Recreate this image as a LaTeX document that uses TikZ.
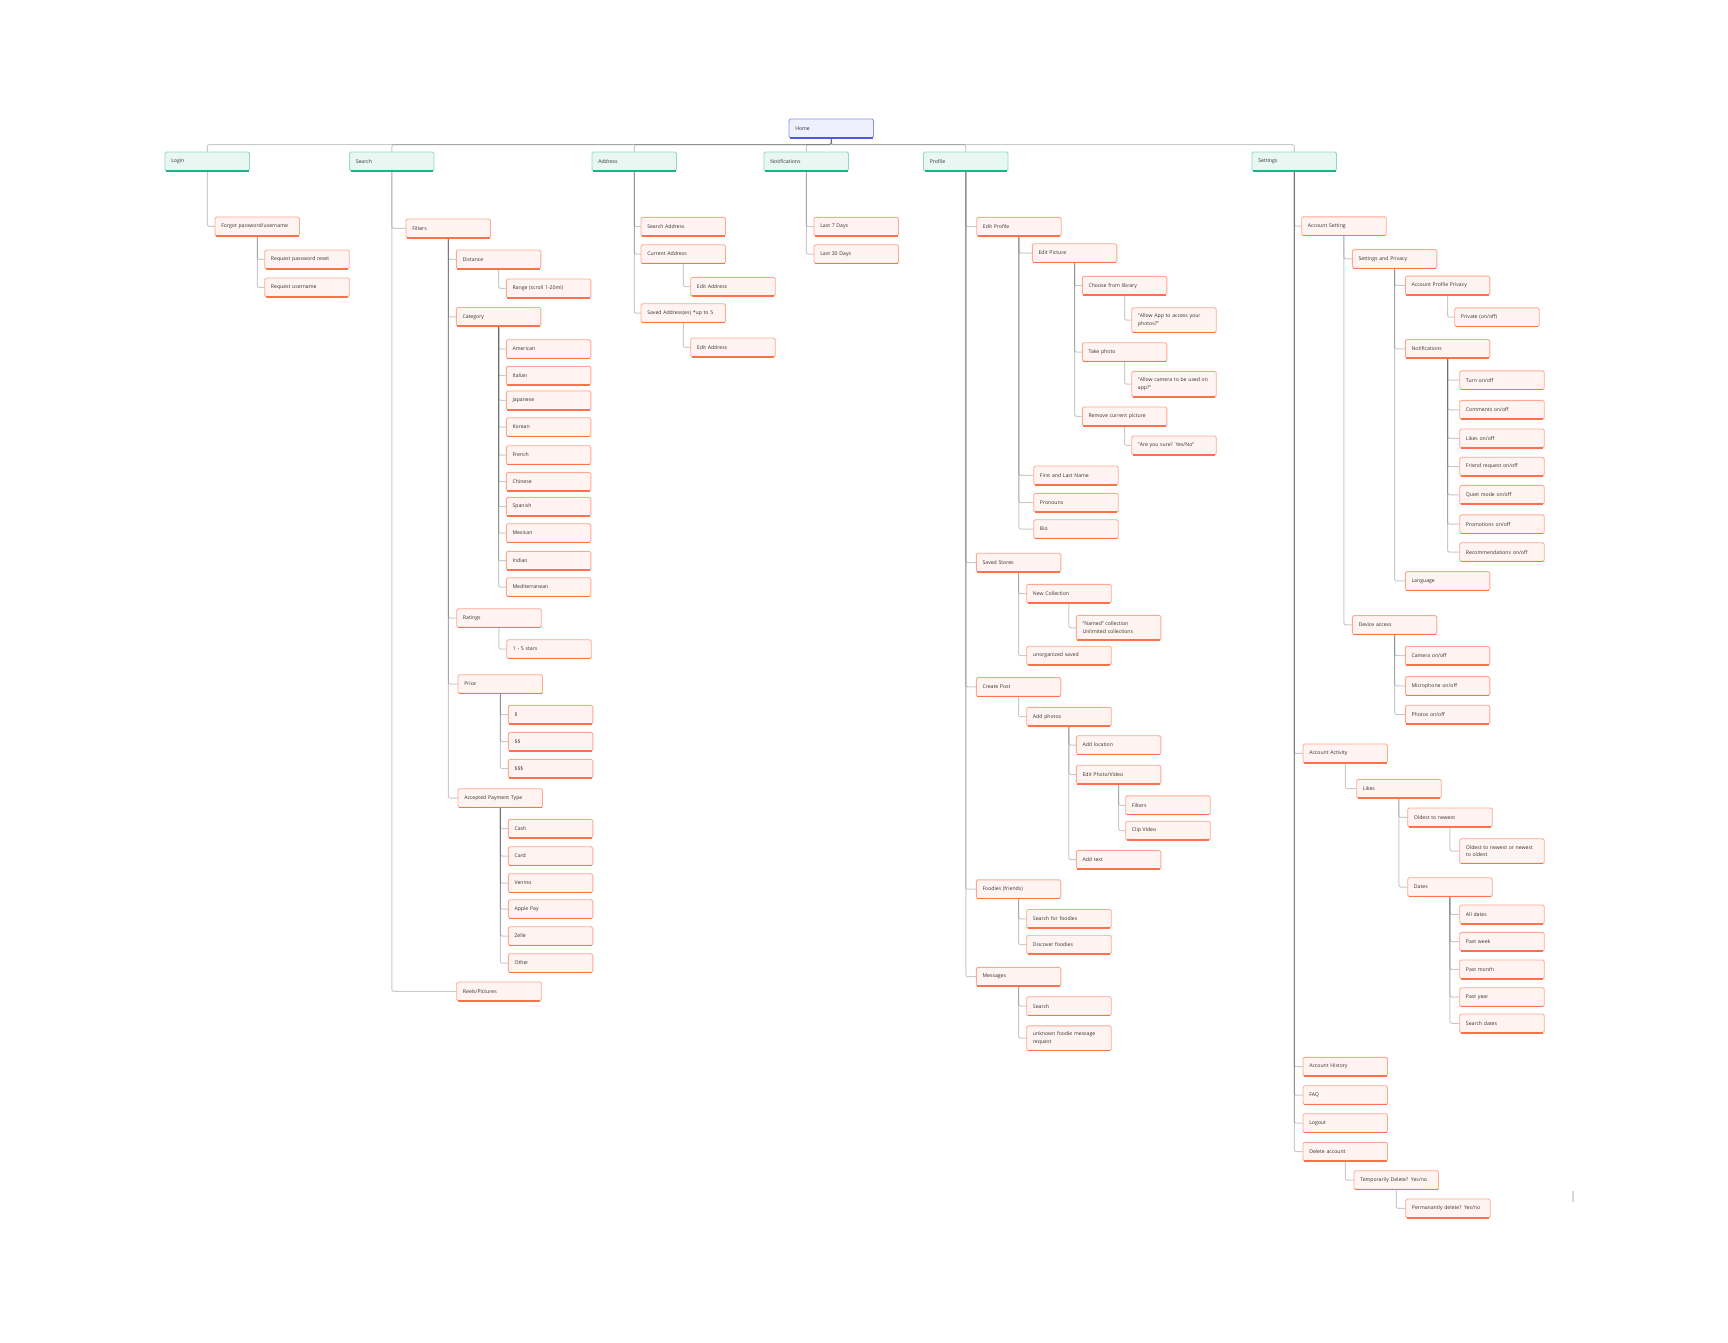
\documentclass[tikz,border=0pt]{standalone}
\usepackage{fontspec}
\setmainfont{Open Sans}
\pgfdeclarelayer{background}
\pgfsetlayers{background,main}
\definecolor{boxfill}{HTML}{FFF4F1}
\definecolor{boxline}{HTML}{FFA890}
\definecolor{boxbot}{HTML}{FF7148}
\definecolor{topfill}{HTML}{E9F7F3}
\definecolor{topline}{HTML}{8FD9C6}
\definecolor{topbot}{HTML}{1DB08A}
\definecolor{homefill}{HTML}{EEF1FC}
\definecolor{homeline}{HTML}{8B90F2}
\definecolor{homebot}{HTML}{5158E6}
\definecolor{textc}{HTML}{333333}
\definecolor{strayc}{HTML}{D9D9E6}
\tikzset{
  box/.style={draw=boxline, fill=boxfill, line width=0.9pt, rounded corners=1.5pt,
    anchor=north west, minimum width=84.5pt, minimum height=18.7pt,
    text width=72pt, inner xsep=6.25pt, inner ysep=2pt, align=left, outer sep=0pt,
    font=\fontsize{5.15}{7.6}\selectfont, text=textc},
  topbox/.style={box, draw=topline, fill=topfill},
  homebox/.style={box, draw=homeline, fill=homefill},
  bl/.style={draw=boxbot, line width=1.6pt},
  tbl/.style={draw=topbot, line width=1.6pt},
  hbl/.style={draw=homebot, line width=1.6pt},
  conn/.style={draw=black!60, opacity=0.35, line width=1pt, rounded corners=2pt},
}
\newcommand\mk[6]{%
  \node[#1] (#3) at (#4,#5) {#6};
  \draw[#2] ([xshift=1pt]#3.south west) -- ([xshift=-1pt]#3.south east);}
\newcommand\ed[2]{\foreach \c in {#2} {\draw[conn] (#1.south) |- (\c.west);}}
\begin{document}
\begin{tikzpicture}[x=1pt,y=-1pt]
\useasboundingbox (0,0) rectangle (1728,1342);
% top level
\mk{homebox}{hbl}{home}{789}{119}{Home}
\mk{topbox}{tbl}{login}{165}{152}{Login}
\mk{topbox}{tbl}{search}{349.5}{152}{Search}
\mk{topbox}{tbl}{address}{592}{152}{Address}
\mk{topbox}{tbl}{notif}{764}{152}{Notifications}
\mk{topbox}{tbl}{profile}{923.5}{152}{Profile}
\mk{topbox}{tbl}{settings}{1252}{152}{Settings}
% login
\mk{box}{bl}{forgot}{215}{217}{Forgot password/username}
\mk{box}{bl}{reqpw}{264.7}{250}{Request password reset}
\mk{box}{bl}{requn}{264.7}{278}{Request username}
% search
\mk{box}{bl}{filters}{406}{219}{Filters}
\mk{box}{bl}{distance}{456.3}{250}{Distance}
\mk{box}{bl}{range}{506.3}{279}{Range (scroll 1-20mi)}
\mk{box}{bl}{category}{456.3}{307.5}{Category}
\mk{box}{bl}{american}{506.3}{339.7}{American}
\mk{box}{bl}{italian}{506.3}{366.3}{Italian}
\mk{box}{bl}{japanese}{506.3}{391}{Japanese}
\mk{box}{bl}{korean}{506.3}{417.7}{Korean}
\mk{box}{bl}{french}{506.3}{445.7}{French}
\mk{box}{bl}{chinese}{506.3}{472.3}{Chinese}
\mk{box}{bl}{spanish}{506.3}{497.3}{Spanish}
\mk{box}{bl}{mexican}{506.3}{523.7}{Mexican}
\mk{box}{bl}{indian}{506.3}{551.3}{Indian}
\mk{box}{bl}{medit}{506.3}{577.7}{Mediterranean}
\mk{box}{bl}{ratings}{456.7}{608.7}{Ratings}
\mk{box}{bl}{stars}{506.7}{639.7}{1 - 5 stars}
\mk{box}{bl}{price}{458}{674.7}{Price}
\mk{box}{bl}{done}{508.3}{705.3}{\$}
\mk{box}{bl}{dtwo}{508.3}{732.3}{\$\$}
\mk{box}{bl}{dthree}{508.3}{759.3}{\$\$\$}
\mk{box}{bl}{payment}{458}{788.7}{Accepted Payment Type}
\mk{box}{bl}{cash}{508.3}{819.3}{Cash}
\mk{box}{bl}{card}{508.3}{846.7}{Card}
\mk{box}{bl}{venmo}{508.3}{873.7}{Venmo}
\mk{box}{bl}{applepay}{508.3}{899.7}{Apple Pay}
\mk{box}{bl}{zelle}{508.3}{926.7}{Zelle}
\mk{box}{bl}{other}{508.3}{953.7}{Other}
\mk{box}{bl}{reels}{456.7}{982}{Reels/Pictures}
% address
\mk{box}{bl}{saddr}{641}{217.3}{Search Address}
\mk{box}{bl}{caddr}{641}{244.7}{Current Address}
\mk{box}{bl}{eaddrone}{690.7}{277.3}{Edit Address}
\mk{box}{bl}{svaddr}{641}{303.7}{Saved Address(es) *up to 5}
\mk{box}{bl}{eaddrtwo}{690.7}{338}{Edit Address}
% notifications
\mk{box}{bl}{lseven}{814}{217.3}{Last 7 Days}
\mk{box}{bl}{lthirty}{814}{244.7}{Last 30 Days}
% profile
\mk{box}{bl}{editprof}{976.7}{217.3}{Edit Profile}
\mk{box}{bl}{editpic}{1032.3}{243.7}{Edit Picture}
\mk{box}{bl}{library}{1082.3}{276.3}{Choose from library}
\mk{box,minimum height=24.7pt}{bl}{allowapp}{1131.7}{307.7}{"Allow App to access your\\photos?"}
\mk{box}{bl}{takephoto}{1082.3}{342.7}{Take photo}
\mk{box,minimum height=25.5pt}{bl}{allowcam}{1131.7}{371.3}{"Allow camera to be used on\\app?"}
\mk{box}{bl}{remove}{1082.3}{407}{Remove current picture}
\mk{box}{bl}{sure}{1131.7}{436}{"Are you sure? Yes/No"}
\mk{box}{bl}{fname}{1033.7}{466}{First and Last Name}
\mk{box}{bl}{pronouns}{1033.7}{493.3}{Pronouns}
\mk{box}{bl}{bio}{1033.7}{519.7}{Bio}
\mk{box}{bl}{saved}{976.3}{553.2}{Saved Stores}
\mk{box}{bl}{newcoll}{1026.7}{584.3}{New Collection}
\mk{box,minimum height=24.7pt}{bl}{named}{1076.3}{615.4}{"Named" collection\\*Unlimited collections}
\mk{box}{bl}{unorg}{1026.7}{646.2}{unorganized saved}
\mk{box}{bl}{createpost}{976.3}{677.6}{Create Post}
\mk{box}{bl}{addphotos}{1026.7}{707.3}{Add photos}
\mk{box}{bl}{addloc}{1076.3}{735.7}{Add location}
\mk{box}{bl}{editpv}{1076.3}{765.2}{Edit Photo/Video}
\mk{box}{bl}{pfilters}{1125.7}{795.9}{Filters}
\mk{box}{bl}{clip}{1125.7}{821.2}{Clip Video}
\mk{box}{bl}{addtext}{1076.3}{850.3}{Add text}
\mk{box}{bl}{foodies}{976.3}{879.8}{Foodies (friends)}
\mk{box}{bl}{sfoodies}{1026.7}{909.5}{Search for foodies}
\mk{box}{bl}{dfoodies}{1026.7}{935.2}{Discover foodies}
\mk{box}{bl}{messages}{976.3}{967.3}{Messages}
\mk{box}{bl}{msearch}{1026.7}{996.7}{Search}
\mk{box,minimum height=24.7pt}{bl}{unknown}{1026.7}{1025.8}{unknown foodie message\\request}
% settings
\mk{box}{bl}{accset}{1301.7}{216.8}{Account Setting}
\mk{box}{bl}{setpriv}{1352.3}{249.6}{Settings and Privacy}
\mk{box}{bl}{app}{1405.3}{276.1}{Account Profile Privacy}
\mk{box}{bl}{private}{1454.7}{307.8}{Private (on/off)}
\mk{box}{bl}{snotif}{1405.3}{339.5}{Notifications}
\mk{box}{bl}{turn}{1459.7}{370.8}{Turn on/off}
\mk{box}{bl}{comments}{1459.7}{400.4}{Comments on/off}
\mk{box}{bl}{likesoo}{1459.7}{429}{Likes on/off}
\mk{box}{bl}{friendreq}{1459.7}{457.2}{Friend request on/off}
\mk{box}{bl}{quiet}{1459.7}{485.4}{Quiet mode on/off}
\mk{box}{bl}{promo}{1459.7}{514.8}{Promotions on/off}
\mk{box}{bl}{recomm}{1459.7}{542.7}{Recommendations on/off}
\mk{box}{bl}{language}{1405.3}{571.6}{Language}
\mk{box}{bl}{device}{1352.3}{615.6}{Device access}
\mk{box}{bl}{camera}{1405.3}{646.3}{Camera on/off}
\mk{box}{bl}{micro}{1405.3}{676.6}{Microphone on/off}
\mk{box}{bl}{photos}{1405.3}{705.2}{Photos on/off}
\mk{box}{bl}{activity}{1303}{744}{Account Activity}
\mk{box}{bl}{likes}{1356.7}{779.3}{Likes}
\mk{box}{bl}{oldest}{1407.7}{808}{Oldest to newest}
\mk{box,minimum height=24.7pt}{bl}{oldnew}{1459.7}{838.7}{Oldest to newest or newest\\to oldest}
\mk{box}{bl}{dates}{1407.7}{877.7}{Dates}
\mk{box}{bl}{alld}{1459.7}{905}{All dates}
\mk{box}{bl}{pweek}{1459.7}{932.3}{Past week}
\mk{box}{bl}{pmonth}{1459.7}{960}{Past month}
\mk{box}{bl}{pyear}{1459.7}{987.7}{Past year}
\mk{box}{bl}{sdates}{1459.7}{1014}{Search dates}
\mk{box}{bl}{history}{1303}{1057.3}{Account History}
\mk{box}{bl}{faq}{1303}{1085.7}{FAQ}
\mk{box}{bl}{logout}{1303}{1113.7}{Logout}
\mk{box}{bl}{delete}{1303}{1142.3}{Delete account}
\mk{box}{bl}{tempdel}{1354}{1170.7}{Temporarily Delete? Yes/no}
\mk{box}{bl}{permdel}{1405.7}{1199}{Permanantly delete? Yes/no}
% stray mark
\fill[strayc] (1571.7,1190.7) rectangle (1573.7,1202.3);
% connectors
\begin{pgfonlayer}{background}
\foreach \c in {login,search,address,notif,profile,settings}
  {\draw[conn] (home.south) -- ++(0,7) -| (\c.north);}
\ed{login}{forgot}
\ed{forgot}{reqpw,requn}
\ed{search}{filters,reels}
\ed{filters}{distance,category,ratings,price,payment}
\ed{distance}{range}
\ed{category}{american,italian,japanese,korean,french,chinese,spanish,mexican,indian,medit}
\ed{ratings}{stars}
\ed{price}{done,dtwo,dthree}
\ed{payment}{cash,card,venmo,applepay,zelle,other}
\ed{address}{saddr,caddr,svaddr}
\ed{caddr}{eaddrone}
\ed{svaddr}{eaddrtwo}
\ed{notif}{lseven,lthirty}
\ed{profile}{editprof,saved,createpost,foodies,messages}
\ed{editprof}{editpic,fname,pronouns,bio}
\ed{editpic}{library,takephoto,remove}
\ed{library}{allowapp}
\ed{takephoto}{allowcam}
\ed{remove}{sure}
\ed{saved}{newcoll,unorg}
\ed{newcoll}{named}
\ed{createpost}{addphotos}
\ed{addphotos}{addloc,editpv,addtext}
\ed{editpv}{pfilters,clip}
\ed{foodies}{sfoodies,dfoodies}
\ed{messages}{msearch,unknown}
\ed{settings}{accset,activity,history,faq,logout,delete}
\ed{accset}{setpriv,device}
\ed{setpriv}{app,snotif,language}
\ed{app}{private}
\ed{snotif}{turn,comments,likesoo,friendreq,quiet,promo,recomm}
\ed{device}{camera,micro,photos}
\ed{activity}{likes}
\ed{likes}{oldest,dates}
\ed{oldest}{oldnew}
\ed{dates}{alld,pweek,pmonth,pyear,sdates}
\ed{delete}{tempdel}
\ed{tempdel}{permdel}
\end{pgfonlayer}
\end{tikzpicture}
\end{document}
